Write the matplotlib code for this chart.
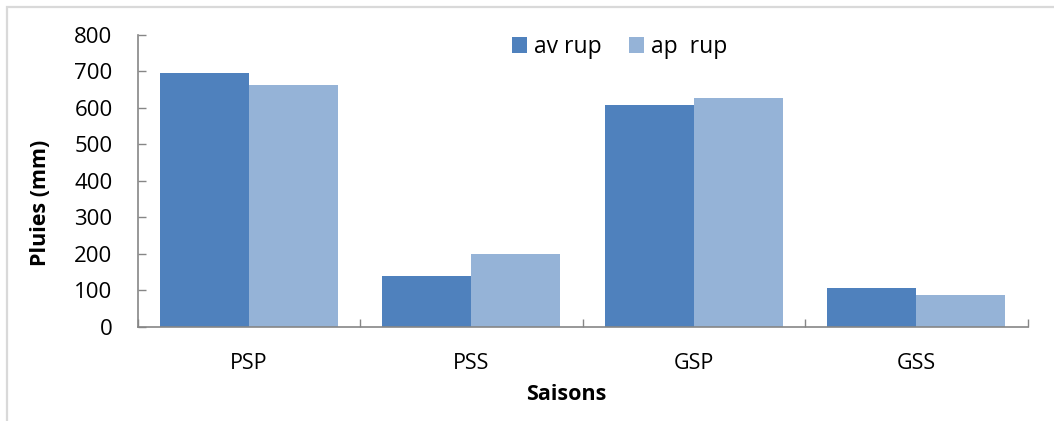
import matplotlib
matplotlib.use("Agg")
import matplotlib.pyplot as plt
import numpy as np

categories = ["PSP", "PSS", "GSP", "GSS"]
av_rup = [696, 139, 608, 105]
ap_rup = [663, 200, 627, 87]
series_labels = ["av rup", "ap  rup"]
yticks = [0, 100, 200, 300, 400, 500, 600, 700, 800]

plt.rcParams['font.family'] = ['Open Sans', 'DejaVu Sans']

W, H = 1054, 421
fig = plt.figure(figsize=(W / 100, H / 100), dpi=100)
fig.patch.set_facecolor('white')

# outer chart frame (light gray)
frame = plt.Rectangle((7 / W, -0.05), 1.2, (H - 7) / H + 0.05, transform=fig.transFigure,
                      fill=False, edgecolor='#d9d9d9', linewidth=1.6, zorder=0)
fig.patches.append(frame)

left, right, top, bottom = 137.5, 1027.7, 35.0, 326.7
ax = fig.add_axes([left / W, (H - bottom) / H, (right - left) / W, (bottom - top) / H])

x = np.arange(len(categories))
bw = 0.4
c1, c2 = '#4F81BD', '#95B3D7'
ax.bar(x - bw / 2, av_rup, width=bw, color=c1, label=series_labels[0], zorder=2)
ax.bar(x + bw / 2, ap_rup, width=bw, color=c2, label=series_labels[1], zorder=2)

ax.set_xlim(-0.5, len(categories) - 0.5)
ax.set_ylim(0, 800)
ax.set_yticks(yticks)
ax.set_yticklabels([str(v) for v in yticks])

ax.set_xticks(x)
ax.set_xticklabels(categories)
ax.set_xticks(np.arange(-0.5, len(categories)), minor=True)

axis_col = '#868686'
for s in ['top', 'right']:
    ax.spines[s].set_visible(False)
for s in ['left', 'bottom']:
    ax.spines[s].set_color(axis_col)
    ax.spines[s].set_linewidth(1.2)

ax.tick_params(axis='y', direction='in', length=6, width=1.0, color=axis_col,
               labelsize=16, pad=18, labelcolor='black')
ax.tick_params(axis='x', which='major', length=0, labelsize=15.5, pad=19, labelcolor='black')
ax.tick_params(axis='x', which='minor', direction='in', length=6, width=1.0, color=axis_col)

fig.text(41 / W, 1 - 203 / H, "Pluies (mm)", rotation=90, ha='center', va='center',
         fontsize=15.5, fontweight='bold')
fig.text(566 / W, 1 - 394 / H, "Saisons", ha='center', va='center',
         fontsize=15.5, fontweight='bold')

leg = ax.legend(loc='upper left', bbox_to_anchor=(512 / W, 1 - 35 / H), bbox_transform=fig.transFigure,
                ncol=2, frameon=False, fontsize=16.5, handlelength=0.65, handleheight=0.65,
                handletextpad=0.3, columnspacing=1.2, borderaxespad=0, borderpad=0)

fig.savefig("out.png", dpi=100, facecolor='white')
